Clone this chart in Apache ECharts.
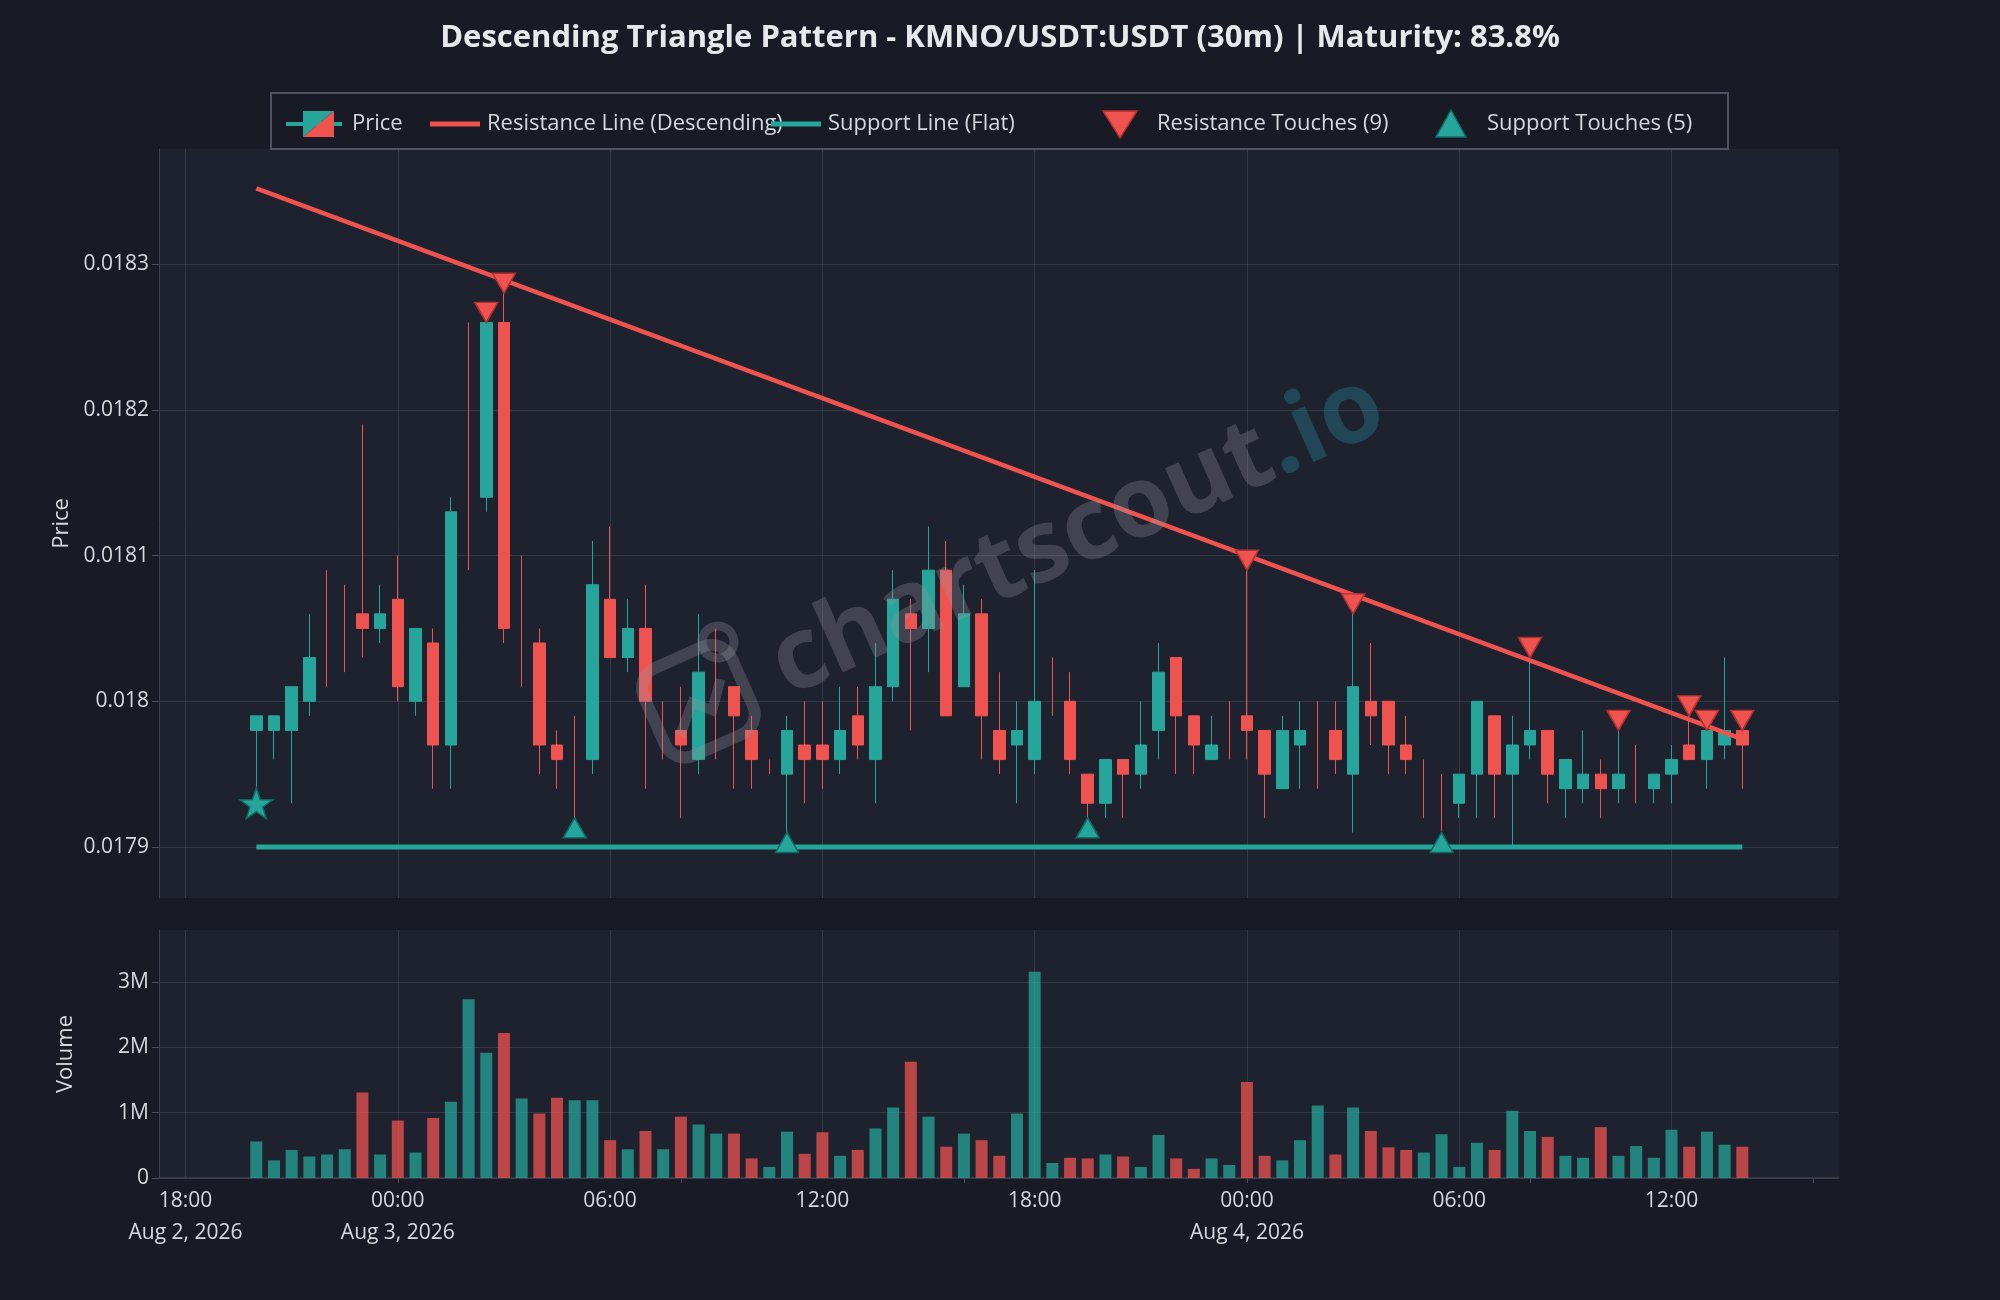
<!DOCTYPE html>
<html><head><meta charset="utf-8">
<script src="https://cdn.jsdelivr.net/npm/echarts@6/dist/echarts.min.js"></script>
<style>html,body{margin:0;padding:0;background:#181b26;}#chart{width:2000px;height:1300px;}</style>
</head><body><div id="chart"></div>
<script>
// ---------------- DATA ----------------
const startTime = '2026-08-02T20:00:00Z';   // first 30m candle
const stepMinutes = 30;
const opens = [
 0.01798,0.01798,0.01798,0.01800,0.01804,0.01805,0.01806,0.01805,0.01807,0.01800,
 0.01804,0.01797,0.01814,0.01814,0.01826,0.01805,0.01804,0.01797,0.01796,0.01796,
 0.01807,0.01803,0.01805,0.01798,0.01798,0.01796,0.01799,0.01801,0.01798,0.01795,
 0.01795,0.01797,0.01797,0.01796,0.01799,0.01796,0.01801,0.01806,0.01805,0.01809,
 0.01801,0.01806,0.01798,0.01797,0.01796,0.01801,0.01800,0.01795,0.01793,0.01796,
 0.01795,0.01798,0.01803,0.01799,0.01796,0.01798,0.01799,0.01798,0.01794,0.01797,
 0.01797,0.01798,0.01795,0.01800,0.01800,0.01797,0.01794,0.01793,0.01793,0.01795,
 0.01799,0.01795,0.01797,0.01798,0.01794,0.01794,0.01795,0.01794,0.01795,0.01794,
 0.01795,0.01797,0.01796,0.01797,0.01798];
const closes = [
 0.01799,0.01799,0.01801,0.01803,0.01804,0.01805,0.01805,0.01806,0.01801,0.01805,
 0.01797,0.01813,0.01814,0.01826,0.01805,0.01805,0.01797,0.01796,0.01796,0.01808,
 0.01803,0.01805,0.01800,0.01798,0.01797,0.01802,0.01799,0.01799,0.01796,0.01795,
 0.01798,0.01796,0.01796,0.01798,0.01797,0.01801,0.01807,0.01805,0.01809,0.01799,
 0.01806,0.01799,0.01796,0.01798,0.01800,0.01801,0.01796,0.01793,0.01796,0.01795,
 0.01797,0.01802,0.01799,0.01797,0.01797,0.01798,0.01798,0.01795,0.01798,0.01798,
 0.01797,0.01796,0.01801,0.01799,0.01797,0.01796,0.01794,0.01793,0.01795,0.01800,
 0.01795,0.01797,0.01798,0.01795,0.01796,0.01795,0.01794,0.01795,0.01795,0.01795,
 0.01796,0.01796,0.01798,0.01798,0.01797];
const lows = [
 0.01793,0.01796,0.01793,0.01799,0.01801,0.01802,0.01803,0.01804,0.01800,0.01799,
 0.01794,0.01794,0.01809,0.01813,0.01804,0.01801,0.01795,0.01794,0.01792,0.01795,
 0.01803,0.01802,0.01794,0.01796,0.01792,0.01795,0.01796,0.01794,0.01794,0.01795,
 0.01791,0.01793,0.01794,0.01795,0.01796,0.01793,0.01800,0.01798,0.01802,0.01799,
 0.01801,0.01796,0.01795,0.01793,0.01795,0.01799,0.01795,0.01792,0.01792,0.01792,
 0.01794,0.01796,0.01795,0.01795,0.01796,0.01796,0.01796,0.01792,0.01794,0.01794,
 0.01794,0.01795,0.01791,0.01797,0.01795,0.01795,0.01792,0.01791,0.01792,0.01792,
 0.01792,0.01790,0.01796,0.01793,0.01792,0.01793,0.01792,0.01793,0.01793,0.01793,
 0.01793,0.01796,0.01794,0.01796,0.01794];
const highs = [
 0.01799,0.01799,0.01801,0.01806,0.01809,0.01808,0.01819,0.01808,0.01810,0.01805,
 0.01805,0.01814,0.01826,0.01826,0.01828,0.01810,0.01805,0.01798,0.01799,0.01811,
 0.01812,0.01807,0.01808,0.01800,0.01801,0.01806,0.01805,0.01801,0.01799,0.01796,
 0.01799,0.01800,0.01800,0.01801,0.01801,0.01804,0.01809,0.01807,0.01812,0.01811,
 0.01808,0.01807,0.01802,0.01800,0.01809,0.01803,0.01802,0.01795,0.01796,0.01796,
 0.01800,0.01804,0.01803,0.01799,0.01799,0.01800,0.01809,0.01798,0.01799,0.01800,
 0.01800,0.01800,0.01806,0.01804,0.01800,0.01799,0.01796,0.01795,0.01795,0.01800,
 0.01799,0.01799,0.01803,0.01798,0.01796,0.01798,0.01796,0.01798,0.01797,0.01795,
 0.01797,0.01799,0.01798,0.01803,0.01798];
const volumes = [
 0.56e6,0.27e6,0.43e6,0.33e6,0.36e6,0.44e6,1.31e6,0.36e6,0.88e6,0.39e6,
 0.92e6,1.17e6,2.74e6,1.92e6,2.22e6,1.22e6,0.99e6,1.23e6,1.19e6,1.19e6,
 0.58e6,0.44e6,0.72e6,0.44e6,0.94e6,0.82e6,0.68e6,0.68e6,0.30e6,0.17e6,
 0.71e6,0.37e6,0.70e6,0.34e6,0.43e6,0.76e6,1.08e6,1.78e6,0.94e6,0.48e6,
 0.68e6,0.58e6,0.34e6,0.99e6,3.16e6,0.23e6,0.31e6,0.30e6,0.36e6,0.33e6,
 0.17e6,0.66e6,0.30e6,0.14e6,0.30e6,0.20e6,1.47e6,0.34e6,0.27e6,0.58e6,
 1.11e6,0.36e6,1.08e6,0.72e6,0.47e6,0.43e6,0.39e6,0.67e6,0.17e6,0.54e6,
 0.43e6,1.03e6,0.72e6,0.63e6,0.34e6,0.31e6,0.78e6,0.34e6,0.49e6,0.31e6,
 0.74e6,0.48e6,0.71e6,0.51e6,0.48e6];
const resistanceLine = [0.018352, 0.017974];  // at first and last candle
const supportLine = [0.01790, 0.01790];
const resistanceTouchIdx = [13, 14, 56, 62, 72, 77, 81, 82, 84];
const supportTouchIdx = [18, 30, 47, 67];
const patternStartIdx = 0;
const priceTickLabels = ['0.0179', '0.018', '0.0181', '0.0182', '0.0183'];
const volumeTickLabels = ['0', '1M', '2M', '3M'];
const xLabelTimes = ['2026-08-02T18:00:00Z','2026-08-03T00:00:00Z','2026-08-03T06:00:00Z','2026-08-03T12:00:00Z',
                     '2026-08-03T18:00:00Z','2026-08-04T00:00:00Z','2026-08-04T06:00:00Z','2026-08-04T12:00:00Z'];
const xLabels = ['18:00\nAug 2, 2026','00:00\nAug 3, 2026','06:00','12:00','18:00','00:00\nAug 4, 2026','06:00','12:00'];
const xMinorTickTimes = ['2026-08-03T00:00:00Z','2026-08-03T08:00:00Z','2026-08-03T16:00:00Z',
                         '2026-08-04T00:00:00Z','2026-08-04T08:00:00Z','2026-08-04T16:00:00Z'];
const xRange = ['2026-08-02T17:15:00Z', '2026-08-04T16:44:00Z'];
const titleText = 'Descending Triangle Pattern - KMNO/USDT:USDT (30m) | Maturity: 83.8%';

// ---------------- BUILD ----------------
const UP = '#26a69a', DOWN = '#ef5350';
const FONT = 'Open Sans';
const TXT = '#d6d8de';
const gridColor = 'rgba(120,125,145,0.25)';
const t0 = Date.parse(startTime);
const times = opens.map((_, i) => t0 + i * stepMinutes * 60000);
const tFirst = times[0], tLast = times[times.length - 1];
const xMin = Date.parse(xRange[0]), xMax = Date.parse(xRange[1]);
const xLabelVals = xLabelTimes.map(t => Date.parse(t));
const xMinorVals = xMinorTickTimes.map(t => Date.parse(t));
const labelMap = {};
xLabelVals.forEach((v, i) => { labelMap[v] = xLabels[i]; });
const priceLabelMap = {};
priceTickLabels.forEach(s => { priceLabelMap[parseFloat(s).toFixed(5)] = s; });

const isDoji = i => opens[i] === closes[i];
const candleData = [], dojiData = [];
times.forEach((t, i) => {
  const v = [t, opens[i], closes[i], lows[i], highs[i]];
  (isDoji(i) ? dojiData : candleData).push(v);
});
const volData = times.map((t, i) => ({
  value: [t, volumes[i]],
  itemStyle: { color: closes[i] >= opens[i] ? 'rgba(38,166,154,0.75)' : 'rgba(239,83,80,0.75)' }
}));

function svgIcon(w, h, inner) {
  return 'image://data:image/svg+xml;charset=utf-8,' + encodeURIComponent(
    `<svg xmlns="http://www.w3.org/2000/svg" width="${w}" height="${h}" viewBox="0 0 ${w} ${h}">${inner}</svg>`);
}
const legendDefs = [
  { name: 'Price', left: 286, w: 61, h: 28,
    inner: `<line x1="0" y1="14" x2="56" y2="14" stroke="${UP}" stroke-width="4"/><polygon points="17,1 48,1 17,27" fill="${UP}"/><polygon points="48,1 48,27 17,27" fill="${DOWN}"/>` },
  { name: 'Resistance Line (Descending)', left: 430, w: 52, h: 28,
    inner: `<line x1="0" y1="14" x2="50" y2="14" stroke="${DOWN}" stroke-width="5"/>` },
  { name: 'Support Line (Flat)', left: 771, w: 52, h: 28,
    inner: `<line x1="0" y1="14" x2="50" y2="14" stroke="${UP}" stroke-width="5"/>` },
  { name: 'Resistance Touches (9)', left: 1102, w: 50, h: 30,
    inner: `<polygon points="1,2 35,2 18,29" fill="${DOWN}" stroke="#b3302e" stroke-width="1.5"/>` },
  { name: 'Support Touches (5)', left: 1435, w: 47, h: 30,
    inner: `<polygon points="16,1 31,28 1,28" fill="${UP}" stroke="#0f6b61" stroke-width="1.5"/>` }
];
const legends = legendDefs.map(d => ({
  left: d.left, top: 124 - d.h / 2, itemWidth: d.w, itemHeight: d.h, padding: 0, itemGap: 0,
  selectedMode: false,
  data: [{ name: d.name, icon: svgIcon(d.w, d.h, d.inner) }],
  textStyle: { color: TXT, fontSize: 22, fontFamily: FONT }
}));

const starPath = 'path://M50,0 L61.8,35.1 L98.1,35.1 L68.8,56.8 L79.4,91 L50,70 L20.6,91 L31.2,56.8 L1.9,35.1 L38.2,35.1 Z';
const axisLabelStyle = { color: TXT, fontSize: 21, fontFamily: FONT };

const option = {
  backgroundColor: '#181b26',
  animation: false,
  title: {
    text: titleText, left: 'center', top: 23, padding: 0,
    textStyle: { color: '#e8e9ec', fontSize: 31, fontWeight: 'bold', fontFamily: FONT }
  },
  legend: legends,
  grid: [
    { left: 159, top: 149, width: 1680, height: 749, show: true, backgroundColor: '#1e212e', borderWidth: 0 },
    { left: 159, top: 930, width: 1680, height: 248, show: true, backgroundColor: '#1e212e', borderWidth: 0 }
  ],
  xAxis: [
    { type: 'value', gridIndex: 0, min: xMin, max: xMax, scale: true,
      axisLine: { show: false }, axisTick: { show: false, customValues: xLabelVals }, axisLabel: { show: false },
      splitLine: { show: true, lineStyle: { color: gridColor, width: 1 } } },
    { type: 'value', gridIndex: 1, min: xMin, max: xMax, scale: true,
      axisLine: { show: true, onZero: false, lineStyle: { color: '#3d4150', width: 1.5 } },
      axisTick: { show: false, customValues: xLabelVals },
      axisLabel: Object.assign({ customValues: xLabelVals, margin: 7, lineHeight: 32,
        formatter: v => labelMap[v] !== undefined ? labelMap[v] : '' }, axisLabelStyle),
      splitLine: { show: true, lineStyle: { color: gridColor, width: 1 } } },
    { type: 'value', gridIndex: 1, min: xMin, max: xMax, scale: true, position: 'bottom',
      axisLine: { show: false, onZero: false }, axisLabel: { show: false }, splitLine: { show: false },
      axisTick: { show: true, length: 5, customValues: xMinorVals, lineStyle: { color: '#4a4e5c' } } }
  ],
  yAxis: [
    { type: 'value', gridIndex: 0, min: 0.017865, max: 0.018379,
      name: 'Price', nameLocation: 'middle', nameGap: 82, nameRotate: 90,
      nameTextStyle: { color: TXT, fontSize: 22, fontFamily: FONT },
      axisLine: { show: true, lineStyle: { color: '#3d4150' } },
      axisTick: { show: true, length: 7, lineStyle: { color: '#4a4e5c' } },
      axisLabel: Object.assign({ margin: 10, showMinLabel: false, showMaxLabel: false,
        formatter: v => priceLabelMap[v.toFixed(5)] || '' }, axisLabelStyle),
      splitLine: { show: true, showMinLine: false, showMaxLine: false, lineStyle: { color: gridColor } } },
    { type: 'value', gridIndex: 1, min: 0, max: 3.8e6, interval: 1e6,
      name: 'Volume', nameLocation: 'middle', nameGap: 82, nameRotate: 90,
      nameTextStyle: { color: TXT, fontSize: 22, fontFamily: FONT },
      axisLine: { show: true, lineStyle: { color: '#3d4150' } },
      axisTick: { show: true, length: 7, lineStyle: { color: '#4a4e5c' } },
      axisLabel: Object.assign({ margin: 10, showMaxLabel: false,
        formatter: v => volumeTickLabels[Math.round(v / 1e6)] || '' }, axisLabelStyle),
      splitLine: { show: true, showMaxLine: false, lineStyle: { color: gridColor } } }
  ],
  series: [
    { name: 'areaBase', type: 'line', xAxisIndex: 0, yAxisIndex: 0, stack: 'tri', silent: true,
      symbol: 'none', lineStyle: { width: 0, opacity: 0 }, z: 1,
      data: [[tFirst, supportLine[0]], [tLast, supportLine[1]]] },
    { name: 'areaFill', type: 'line', xAxisIndex: 0, yAxisIndex: 0, stack: 'tri', silent: true,
      symbol: 'none', lineStyle: { width: 0, opacity: 0 }, z: 1,
      areaStyle: { color: 'rgba(239,83,80,0.15)', opacity: 1 },
      data: [[tFirst, resistanceLine[0] - supportLine[0]], [tLast, resistanceLine[1] - supportLine[1]]] },
    { name: 'Support Line (Flat)', type: 'line', xAxisIndex: 0, yAxisIndex: 0, symbol: 'none', z: 2,
      lineStyle: { color: UP, width: 5 }, itemStyle: { color: UP },
      data: [[tFirst, supportLine[0]], [tLast, supportLine[1]]] },
    { name: 'Price', type: 'candlestick', xAxisIndex: 0, yAxisIndex: 0, barWidth: 12, z: 3,
      itemStyle: { color: UP, color0: DOWN, borderColor: UP, borderColor0: DOWN, borderWidth: 1 },
      data: candleData },
    { name: 'Price', type: 'candlestick', xAxisIndex: 0, yAxisIndex: 0, barWidth: 1, z: 3,
      itemStyle: { color: DOWN, color0: DOWN, borderColor: DOWN, borderColor0: DOWN, borderWidth: 1 },
      data: dojiData },
    { name: 'Resistance Line (Descending)', type: 'line', xAxisIndex: 0, yAxisIndex: 0, symbol: 'none', z: 4,
      lineStyle: { color: DOWN, width: 4.5 }, itemStyle: { color: DOWN },
      data: [[tFirst, resistanceLine[0]], [tLast, resistanceLine[1]]] },
    { name: 'Resistance Touches (9)', type: 'scatter', xAxisIndex: 0, yAxisIndex: 0, z: 5,
      symbol: 'triangle', symbolRotate: 180, symbolSize: [23, 20], symbolOffset: [0, -10],
      itemStyle: { color: DOWN, borderColor: '#b3302e', borderWidth: 1.5, opacity: 1 },
      data: resistanceTouchIdx.map(i => [times[i], highs[i]]) },
    { name: 'Support Touches (5)', type: 'scatter', xAxisIndex: 0, yAxisIndex: 0, z: 5,
      symbol: 'triangle', symbolSize: [23, 20], symbolOffset: [0, 10],
      itemStyle: { color: UP, borderColor: '#0f6b61', borderWidth: 1.5, opacity: 1 },
      data: supportTouchIdx.map(i => [times[i], lows[i]]) },
    { name: 'Pattern Start', type: 'scatter', xAxisIndex: 0, yAxisIndex: 0, z: 5,
      symbol: starPath, symbolSize: [33, 31],
      itemStyle: { color: UP, borderColor: '#0f6b61', borderWidth: 1.5, opacity: 1 },
      data: [[times[patternStartIdx], lows[patternStartIdx]]] },
    { name: 'Volume', type: 'bar', xAxisIndex: 1, yAxisIndex: 1, barWidth: 12, data: volData }
  ],
  graphic: [
    { type: 'rect', z: 100, silent: true, shape: { x: 271, y: 93, width: 1457, height: 56 },
      style: { fill: 'none', stroke: '#4f5361', lineWidth: 2 } },
    { type: 'group', x: 1078, y: 536, rotation: 0.42, z: 100, silent: true, children: [
      { type: 'text', z: 100, x: 0, y: 0, style: {
          text: '{a|chartscout}{b|.io}', align: 'center', verticalAlign: 'middle',
          rich: {
            a: { fill: 'rgba(150,150,160,0.30)', fontSize: 100, fontWeight: 'bold', fontFamily: FONT },
            b: { fill: 'rgba(40,150,170,0.32)', fontSize: 100, fontWeight: 'bold', fontFamily: FONT }
          } } },
      { type: 'rect', z: 100, shape: { x: -462, y: -52, width: 96, height: 96, r: 22 },
        style: { fill: 'none', stroke: 'rgba(150,150,160,0.30)', lineWidth: 12 } },
      { type: 'polyline', z: 100, shape: { points: [[-445, 20], [-420, -5], [-405, 10], [-385, -15]] },
        style: { fill: 'none', stroke: 'rgba(150,150,160,0.30)', lineWidth: 10 } },
      { type: 'circle', z: 100, shape: { cx: -372, cy: -50, r: 16 },
        style: { fill: 'none', stroke: 'rgba(150,150,160,0.30)', lineWidth: 9 } }
    ] }
  ]
};
const chart = echarts.init(document.getElementById('chart'), null, { renderer: 'canvas' });
chart.setOption(option);
</script></body></html>
